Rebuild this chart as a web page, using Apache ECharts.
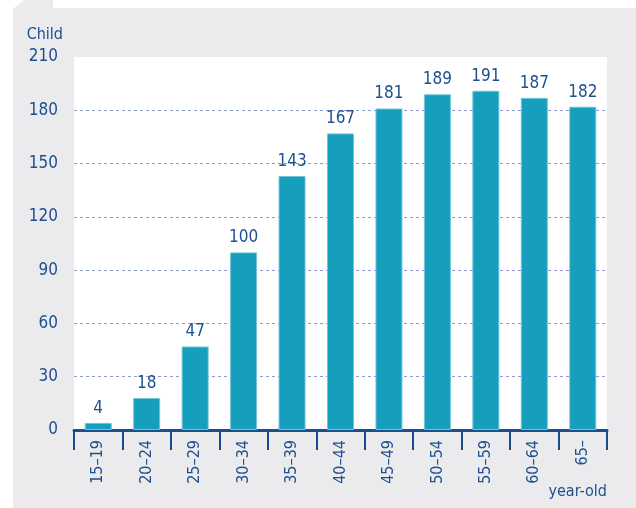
<!DOCTYPE html>
<html>
<head>
<meta charset="utf-8">
<script src="https://cdn.jsdelivr.net/npm/echarts@6/dist/echarts.min.js"></script>
<style>
    html, body { margin: 0; padding: 0; background: #fff; }
    #chart { width: 636px; height: 508px; }
</style>
</head>
<body>
<div id="chart"></div>
<script>
var ageGroups = ['15–19', '20–24', '25–29', '30–34', '35–39', '40–44', '45–49', '50–54', '55–59', '60–64', '65–'];
var childCounts = [4, 18, 47, 100, 143, 167, 181, 189, 191, 187, 182];
var yTicks = {min: 0, max: 210, interval: 30};

// no narrow Myriad here, the condensed DejaVu is the closest match
var font = '"DejaVu Sans Condensed", "Liberation Sans Narrow", sans-serif';
var navy = '#1d4f91';

var chart = echarts.init(document.getElementById('chart'));
var option = {
    backgroundColor: '#fff',
    animation: false,
    textStyle: {fontFamily: font},
    graphic: [
        {type: 'rect', z: -10, shape: {x: 13, y: 8, width: 623, height: 500}, style: {fill: '#ebebee'}},
        {type: 'polygon', z: -10, shape: {points: [[13, 9], [24, 0], [53, 0], [53, 9]]}, style: {fill: '#ebebee'}},
        {type: 'rect', z: -9, shape: {x: 74, y: 57, width: 533, height: 373}, style: {fill: '#fff'}},
        {
            type: 'text', right: 29, top: 484,
            style: {text: 'year-old', fill: navy, font: '16px ' + font}
        }
    ],
    grid: {left: 74, right: 29, top: 57, bottom: 78},
    xAxis: {
        type: 'category',
        data: ageGroups,
        axisLine: {lineStyle: {color: '#1f4e8c', width: 3}},
        axisTick: {show: true, length: 20, lineStyle: {color: '#1b4a8a', width: 2}},
        axisLabel: {rotate: 90, margin: 10, color: navy, fontSize: 16, fontFamily: font}
    },
    yAxis: {
        type: 'value',
        min: yTicks.min,
        max: yTicks.max,
        interval: yTicks.interval,
        name: 'Child',
        nameLocation: 'end',
        nameGap: 14,
        nameTextStyle: {color: navy, fontSize: 16, fontFamily: font, align: 'right', padding: [0, 11, 0, 0]},
        axisLine: {show: false},
        axisTick: {show: false},
        axisLabel: {margin: 16, color: navy, fontSize: 17, fontFamily: font},
        splitLine: {
            showMinLine: false,
            showMaxLine: false,
            lineStyle: {color: '#8c9dc9', type: [3, 3], width: 1}
        }
    },
    series: [
        {
            type: 'bar',
            data: childCounts,
            barWidth: 27,
            itemStyle: {color: '#169ebd', borderColor: '#74c4d8', borderWidth: 1},
            label: {
                show: true,
                position: 'top',
                distance: 6,
                color: navy,
                fontSize: 17,
                fontFamily: font
            }
        }
    ]
};
chart.setOption(option);
window.onresize = chart.resize;
</script>
</body>
</html>
